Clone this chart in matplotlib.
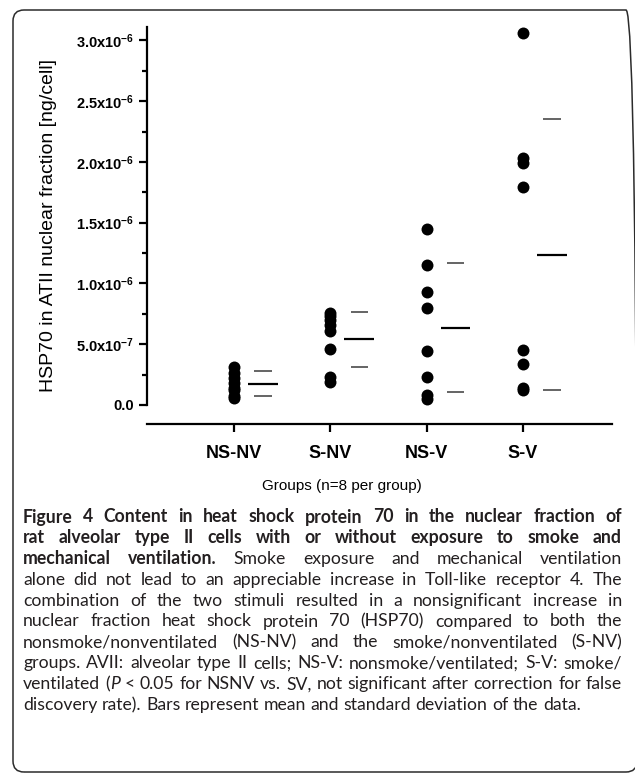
import matplotlib
matplotlib.use("Agg")
import matplotlib.pyplot as plt
import numpy as np
from matplotlib.patches import FancyBboxPatch
from matplotlib.ticker import MultipleLocator

plt.rcParams["font.family"] = "Liberation Sans"
plt.rcParams["mathtext.fontset"] = "custom"
plt.rcParams["mathtext.rm"] = "Liberation Sans"
plt.rcParams["mathtext.bf"] = "Liberation Sans:bold"

# data (values in units of 1e-6 ng/cell)
groups = ["NS-NV", "S-NV", "NS-V", "S-V"]
ns_nv = [0.31, 0.26, 0.22, 0.18, 0.14, 0.12, 0.07, 0.06]
s_nv = [0.76, 0.73, 0.70, 0.66, 0.61, 0.46, 0.23, 0.19]
ns_v = [1.45, 1.15, 0.93, 0.80, 0.44, 0.23, 0.08, 0.05]
s_v = [3.06, 2.03, 1.99, 1.79, 0.45, 0.34, 0.14, 0.12]
means = [0.175, 0.54, 0.637, 1.237]
sds = [0.103, 0.228, 0.527, 1.113]
y_ticks = [0.0, 0.5, 1.0, 1.5, 2.0, 2.5, 3.0]
y_ticklabels = ["0.0", r"$\mathbf{5.0x10^{-7}}$", r"$\mathbf{1.0x10^{-6}}$",
                r"$\mathbf{1.5x10^{-6}}$", r"$\mathbf{2.0x10^{-6}}$",
                r"$\mathbf{2.5x10^{-6}}$", r"$\mathbf{3.0x10^{-6}}$"]

caption = [
    [("Figure 4 Content in heat shock protein 70 in the nuclear fraction of", "b")],
    [("rat alveolar type II cells with or without exposure to smoke and", "b")],
    [("mechanical ventilation.", "b"), (" Smoke exposure and mechanical ventilation", "r")],
    [("alone did not lead to an appreciable increase in Toll-like receptor 4. The", "r")],
    [("combination of the two stimuli resulted in a nonsignificant increase in", "r")],
    [("nuclear fraction heat shock protein 70 (HSP70) compared to both the", "r")],
    [("nonsmoke/nonventilated (NS-NV) and the smoke/nonventilated (S-NV)", "r")],
    [("groups. AVII: alveolar type II cells; NS-V: nonsmoke/ventilated; S-V: smoke/", "r")],
    [("ventilated (", "r"), ("P", "i"),
     (" < 0.05 for NSNV vs. SV, not significant after correction for false", "r")],
    [("discovery rate). Bars represent mean and standard deviation of the data.", "r")],
]

W, H = 635, 776
fig = plt.figure(figsize=(W / 100, H / 100), dpi=100)
ax = fig.add_axes([147 / W, 1 - 424 / H, (612 - 147) / W, (424 - 27) / H])

series = [ns_nv, s_nv, ns_v, s_v]
x = np.arange(1, len(groups) + 1)
for i, vals in enumerate(series):
    ax.plot(np.full(len(vals), x[i]), np.array(vals) * 1e-6, "o",
            color="black", markersize=8.6, markeredgewidth=0)

m = np.array(means) * 1e-6
s = np.array(sds) * 1e-6
ax.hlines(m, x + 0.30 - 0.155, x + 0.30 + 0.155, color="black", lw=1.6)
ax.hlines(m + s, x + 0.30 - 0.09, x + 0.30 + 0.09, color="#3a3a3a", lw=1.1)
ax.hlines(m - s, x + 0.30 - 0.09, x + 0.30 + 0.09, color="#3a3a3a", lw=1.1)

ax.set_xlim(0.097, 4.924)
ax.set_ylim(-0.157e-6, 3.11e-6)
ax.spines["top"].set_visible(False)
ax.spines["right"].set_visible(False)
ax.spines["left"].set_bounds(0, 3.11e-6)
ax.spines["left"].set_linewidth(1.6)
ax.spines["bottom"].set_linewidth(1.6)

ax.set_yticks(np.array(y_ticks) * 1e-6)
ax.set_yticklabels(y_ticklabels)
ax.yaxis.set_minor_locator(MultipleLocator(0.25e-6))
ax.set_xticks(x)
ax.set_xticklabels(groups)
ax.tick_params(axis="y", which="major", length=6, width=1.6, labelsize=10.5, pad=3)
ax.tick_params(axis="y", which="minor", length=3.3, width=1.6)
ax.tick_params(axis="x", length=6, width=1.6, labelsize=13, pad=9)
for lab in ax.get_xticklabels() + ax.get_yticklabels():
    lab.set_fontweight("bold")

ax.set_ylabel("HSP70 in ATII nuclear fraction [ng/cell]", fontsize=14, labelpad=14)
fig.text(342 / W, 1 - 486 / H, "Groups (n=8 per group)", fontsize=11,
         ha="center", va="center")

# rounded frame round the figure and caption
frame = FancyBboxPatch((0.13, (H - 772) / 100), 6.24, 7.62,
                       boxstyle="round,pad=0,rounding_size=0.11",
                       transform=fig.dpi_scale_trans, fill=False,
                       edgecolor="#2b2b2b", lw=1.1)
fig.patches.append(frame)

# justified caption
cap_font = "Lato"
cap_size = 12.7
cap_color = "#231f20"
left, right = 23, 622
renderer = fig.canvas.get_renderer()


def split_words(segs):
    words = [[]]
    for txt, st in segs:
        parts = txt.split(" ")
        for k, p in enumerate(parts):
            if k > 0:
                words.append([])
            if p:
                words[-1].append((p, st))
    return [w for w in words if w]


def make_text(txt, st, xp, yp, size):
    return fig.text(xp / W, 1 - yp / H, txt, fontsize=size, family=cap_font,
                    fontweight="bold" if st == "b" else "normal",
                    fontstyle="italic" if st == "i" else "normal",
                    color=cap_color, ha="left", va="center")


def space_width(size):
    a = make_text("n n", "r", 0, 0, size)
    b = make_text("nn", "r", 0, 0, size)
    w = a.get_window_extent(renderer).width - b.get_window_extent(renderer).width
    a.remove()
    b.remove()
    return w


def build_line(words, yp, size):
    arts = []
    for w in words:
        pieces = [make_text(t, st, 0, yp, size) for t, st in w]
        pw = [p.get_window_extent(renderer).width for p in pieces]
        arts.append((pieces, pw))
    return arts


for li, segs in enumerate(caption):
    yp = 517 + li * 20.9
    words = split_words(segs)
    size = cap_size
    arts = build_line(words, yp, size)
    total = sum(sum(pw) for _, pw in arts)
    sp = space_width(size)
    natural = total + sp * 0.8 * (len(words) - 1)
    if natural > right - left:
        for pieces, _ in arts:
            for p in pieces:
                p.remove()
        size = size * (right - left) / natural
        arts = build_line(words, yp, size)
        total = sum(sum(pw) for _, pw in arts)
        sp = space_width(size)
    if li < len(caption) - 1:
        gap = (right - left - total) / (len(words) - 1)
    else:
        gap = sp
    xp = left
    for pieces, pw in arts:
        for p, w_ in zip(pieces, pw):
            p.set_x(xp / W)
            xp += w_
        xp += gap

fig.savefig("out.png", dpi=100)
